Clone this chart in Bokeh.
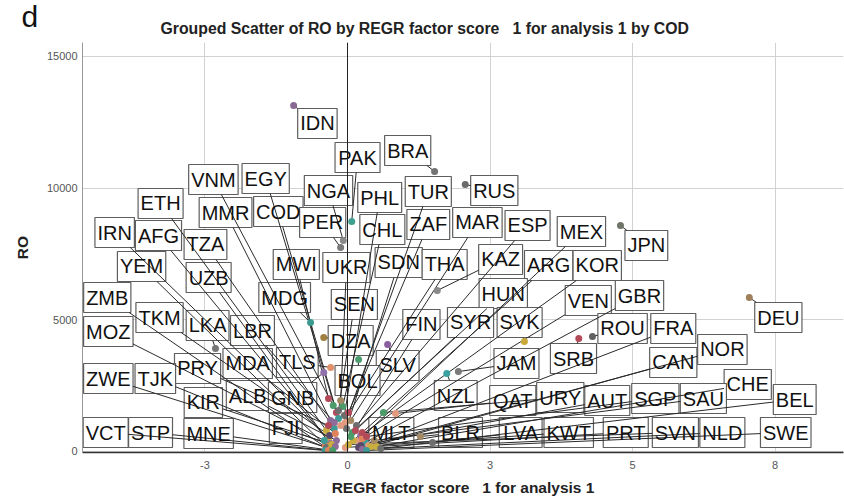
from bokeh.plotting import figure
from bokeh.models import Span, Title, FixedTicker
from bokeh.embed import file_html
from bokeh.resources import INLINE
from bokeh.core.properties import value

# ---------------- data ----------------
codes = ["IDN", "PAK", "BRA", "VNM", "EGY", "NGA", "PHL", "TUR", "RUS", "ETH",
         "MMR", "COD", "PER", "CHL", "ZAF", "MAR", "ESP", "MEX", "JPN", "IRN",
         "AFG", "TZA", "YEM", "UZB", "MWI", "UKR", "SDN", "THA", "KAZ", "ARG",
         "KOR", "GBR", "VEN", "HUN", "MDG", "ZMB", "SEN", "DEU", "TKM", "LKA",
         "LBR", "MOZ", "DZA", "FIN", "SYR", "SVK", "ROU", "FRA", "NOR", "CAN",
         "SRB", "JAM", "MDA", "TLS", "PRY", "SLV", "ZWE", "TJK", "BOL", "CHE",
         "ALB", "GNB", "NZL", "URY", "SGP", "SAU", "BEL", "QAT", "AUT", "KIR",
         "FJI", "VCT", "STP", "MNE", "MLT", "BLR", "LVA", "KWT", "PRT", "SVN",
         "NLD", "SWE"]

# REGR factor score 1 for analysis 1 (x) and RO (y) of each country's point
factor_score = [-1.02, 0.08, 1.65, -0.27, -0.21, -0.08, -0.06, -0.04, 2.23, -0.40,
                -0.32, -0.17, -0.13, -0.09, 0.02, 0.06, 0.17, 0.21, 5.17, -0.36,
                -0.32, -0.25, -0.42, -0.28, -0.36, -0.13, -0.02, -0.13, 1.70, 0.11,
                0.25, 0.34, 0.28, 0.09, -0.70, -0.38, -0.17, 7.61, -0.34, -2.50,
                -0.25, -0.44, -0.45, 0.06, 0.15, 3.35, 4.64, 0.40, 0.47, 0.44,
                4.38, 2.10, -0.23, -0.32, -0.36, 0.76, -0.40, -0.32, 0.21, 0.55,
                -0.21, -0.45, 1.88, 0.68, 0.36, 0.51, 0.63, 0.91, 0.25, -0.30,
                -0.23, -0.42, -0.36, -0.28, 0.28, 1.38, 1.61, -0.04, 0.21, 0.02,
                0.28, 0.36]
ro = [13131, 8729, 10626, 1746, 1480, 8007, 1366, 1101, 10133, 797,
      1176, 1252, 7742, 1708, 1480, 1176, 987, 417, 8577, 493,
      304, 873, 228, 152, 2011, 1935, 873, 987, 6110, 417,
      607, 342, 493, 721, 4896, 114, 1556, 5844, 607, 3909,
      1101, 417, 4326, 569, 797, 4175, 4364, 228, 266, 190,
      4288, 3036, 683, 3188, 987, 4061, 152, 76, 3491, 190,
      417, 2998, 2960, 1480, 569, 417, 114, 1442, 228, 266,
      190, 38, 38, 38, 721, 569, 342, 152, 152, 266,
      76, 38]

# label box centres (data units)
label_x = [-0.57, 0.19, 1.14, -2.54, -1.55, -0.36, 0.61, 1.53, 2.78, -3.54,
           -2.31, -1.31, -0.47, 0.66, 1.53, 2.46, 3.41, 4.43, 5.66, -4.41,
           -3.58, -2.69, -3.90, -2.63, -0.97, -0.02, 0.97, 1.84, 2.90, 3.81,
           4.73, 5.53, 4.56, 2.95, -1.19, -4.55, 0.13, 8.16, -3.56, -2.65,
           -1.80, -4.53, 0.06, 1.40, 2.33, 3.26, 5.21, 6.17, 7.10, 6.17,
           4.28, 3.20, -1.89, -0.95, -2.84, 0.95, -4.53, -3.64, 0.19, 7.58,
           -1.89, -1.04, 2.05, 4.03, 5.83, 6.74, 8.47, 3.13, 4.92, -2.73,
           -1.17, -4.58, -3.73, -2.63, 0.83, 2.14, 3.28, 4.19, 5.27, 6.21,
           7.10, 8.30]
label_y = [12448, 11157, 11423, 10322, 10360, 9905, 9639, 9867, 9905, 9412,
           9070, 9108, 8691, 8425, 8615, 8691, 8577, 8349, 7818, 8311,
           8197, 7856, 7021, 6603, 7097, 6983, 7173, 7097, 7287, 7059,
           7059, 5920, 5730, 5996, 5844, 5844, 5579, 5085, 5085, 4782,
           4592, 4554, 4212, 4820, 4896, 4896, 4668, 4668, 3871, 3378,
           3529, 3340, 3340, 3378, 3150, 3264, 2770, 2770, 2694, 2543,
           2125, 2049, 2125, 2049, 2011, 2011, 1973, 1935, 1935, 1860,
           873, 721, 721, 683, 721, 721, 721, 721, 721, 721,
           721, 721]

x_tick_values = [-2.7, 0, 2.7, 5.4, 8.1]
x_tick_labels = ["-3", "0", "3", "5", "8"]
y_tick_values = [0, 5000, 10000, 15000]

title_text = "Grouped Scatter of RO by REGR factor score\u00a0\u00a0 1 for analysis 1 by COD"
x_label = "REGR factor score\u00a0\u00a0 1 for analysis 1"
y_label = "RO"
panel_letter = "d"

point_colors = {"IDN": "#8a6a94", "BRA": "#737373", "RUS": "#6a6a6a", "JPN": "#6f7568",
                "DEU": "#a0805a", "KAZ": "#8a8a8a", "SVK": "#c8a93a", "SRB": "#b44a58",
                "ROU": "#606060", "NZL": "#3aa0a0", "JAM": "#7a7a7a", "PAK": "#40a090",
                "NGA": "#8a8a8a", "PER": "#7a7a7a", "SLV": "#8a5fa0", "BOL": "#4c9c70",
                "DZA": "#a08040", "MDG": "#3a9a90", "LKA": "#777777", "TLS": "#e0906a",
                "GNB": "#9070a8"}
palette = ["#8e6c9a", "#3d9b97", "#e0825a", "#4b9c6a", "#b24a5a", "#a48a64",
           "#6e6e6e", "#e39a7e", "#5a4a6a", "#c9ae3f"]

# ---------------- layout ----------------
W, H = 844, 502
BL, BR, BT, BB = 82, 1, 42, 50
X0, X1 = -5.019, 9.394
Y0, Y1 = -38, 15522
px_x = (W - BL - BR) / (X1 - X0)
px_y = (H - BT - BB) / (Y1 - Y0)

FONT_PX = 20
cw = {"A": 667, "B": 667, "C": 722, "D": 722, "E": 667, "F": 611, "G": 778, "H": 722,
      "I": 278, "J": 500, "K": 667, "L": 556, "M": 833, "N": 722, "O": 778, "P": 667,
      "Q": 778, "R": 722, "S": 667, "T": 611, "U": 722, "V": 667, "W": 944, "X": 667,
      "Y": 667, "Z": 611}
box_w = [sum(cw[c] for c in s) * FONT_PX / 1000 + 5 for s in codes]
box_h = 30

left, right, top, bottom = [], [], [], []
sx0, sy0, sx1, sy1 = [], [], [], []
for i, s in enumerate(codes):
    hw = box_w[i] / 2 / px_x
    hh = box_h / 2 / px_y
    lx, ly = label_x[i], label_y[i]
    left.append(lx - hw); right.append(lx + hw)
    bottom.append(ly - hh); top.append(ly + hh)
    dx = factor_score[i] - lx
    dy = ro[i] - ly
    sdx, sdy = abs(dx * px_x), abs(dy * px_y)
    t = min(box_w[i] / 2 / sdx if sdx > 0 else 1e9, box_h / 2 / sdy if sdy > 0 else 1e9)
    if t < 1:
        sx0.append(lx + t * dx); sy0.append(ly + t * dy)
        sx1.append(factor_score[i]); sy1.append(ro[i])

colors = [point_colors.get(s, palette[i % len(palette)]) for i, s in enumerate(codes)]

p = figure(width=W, height=H, output_backend="svg", toolbar_location=None,
           x_range=(X0, X1), y_range=(Y0, Y1),
           min_border_left=BL, min_border_right=BR, min_border_top=BT, min_border_bottom=BB)
p.outline_line_color = None
p.background_fill_color = "white"
p.border_fill_color = "white"

# outermost title: panel letter
p.title.text = panel_letter
p.title.align = "left"
p.title.offset = -61
p.title.standoff = -40
p.title.text_font = "Liberation Sans"
p.title.text_font_size = "30px"
p.title.text_font_style = "normal"
p.title.text_color = "#111111"

# chart title
p.add_layout(Title(text=title_text, align="left", offset=78, standoff=11,
                   text_font="Liberation Sans", text_font_size="15.8px",
                   text_font_style="bold", text_color="#222222"), "above")

for ax in (p.xaxis[0], p.yaxis[0]):
    ax.major_tick_out = 0
    ax.major_tick_in = 0
    ax.minor_tick_out = 0
    ax.minor_tick_in = 0
    ax.major_label_text_font = "Liberation Sans"
    ax.major_label_text_font_size = "11px"
    ax.major_label_text_color = "#555555"
    ax.axis_label_text_font = "Liberation Sans"
    ax.axis_label_text_font_size = "15.5px"
    ax.axis_label_text_font_style = "bold"
    ax.axis_label_text_color = "#222222"
p.xaxis[0].ticker = FixedTicker(ticks=x_tick_values)
p.xaxis[0].major_label_overrides = {v: l for v, l in zip(x_tick_values, x_tick_labels)}
p.xaxis[0].major_label_standoff = 8
p.xaxis[0].axis_line_color = "#333333"
p.xaxis[0].axis_line_width = 1.5
p.xaxis[0].axis_label = x_label
p.xaxis[0].axis_label_standoff = 7
p.yaxis[0].ticker = FixedTicker(ticks=y_tick_values)
p.yaxis[0].major_label_standoff = 5
p.yaxis[0].axis_line_color = "#999999"
p.yaxis[0].axis_label = y_label
p.yaxis[0].axis_label_standoff = 13
p.xgrid.grid_line_color = "#d2d2d2"
p.ygrid.grid_line_color = "#d2d2d2"
p.xgrid.ticker = FixedTicker(ticks=x_tick_values)
p.ygrid.ticker = FixedTicker(ticks=y_tick_values)

p.quad(left=left, right=right, top=top, bottom=bottom,
       fill_color="white", line_color="#5e5e5e", line_width=1.2)
p.segment(x0=sx0, y0=sy0, x1=sx1, y1=sy1, line_color="#2a2a2a", line_width=1)
p.scatter(x=factor_score, y=ro, size=7, fill_color=colors, line_color=None)
p.text(x=label_x, y=label_y, text=codes, text_font=value("Liberation Sans"),
       text_font_size="20px", text_align="center", text_baseline="middle",
       text_color="#111111")

p.add_layout(Span(location=0, dimension="height", line_color="#222222", line_width=1))

open("out.html", "w").write(file_html(p, INLINE))
